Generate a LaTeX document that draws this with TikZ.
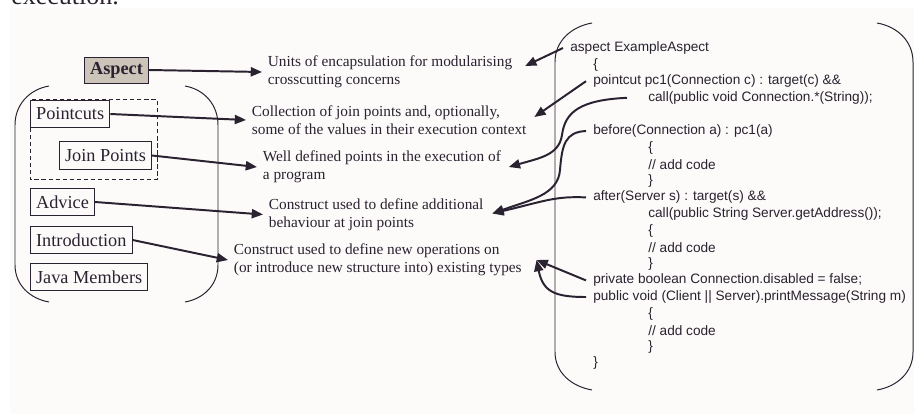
\documentclass[tikz,border=0pt]{standalone}
\usepackage{fontspec}
\setmainfont{Liberation Serif}
\newfontfamily\codefont{Liberation Sans}
\usetikzlibrary{arrows.meta,calc}
\definecolor{ink}{HTML}{2A2230}
\definecolor{paper}{HTML}{FCFBFA}
\definecolor{aspectfill}{HTML}{CCC3B9}

\begin{document}
\begin{tikzpicture}[x=0.025cm,y=-0.025cm,>={Triangle[length=8pt,width=6.5pt]},
  every node/.style={text=ink},
  part/.style={draw=ink,line width=.7pt,anchor=west,inner xsep=4pt,minimum height=19.5pt,font=\fontsize{13}{15}\selectfont},
  desc/.style={anchor=west,align=left,inner xsep=4pt,inner ysep=0pt,font=\fontsize{10.9}{12.8}\selectfont},
  code/.style={anchor=west,inner xsep=5pt,inner ysep=1pt,font=\codefont\fontsize{9.7}{11.6}\selectfont},
  link/.style={->,draw=ink,line width=1.4pt},
  bracket/.style={draw=ink,line width=.7pt}]

\useasboundingbox (0,0) rectangle (914,414);
\fill[paper] (10,8) rectangle (914,414);
\node[anchor=base west,inner sep=0pt,font=\fontsize{18.5}{20}\selectfont] (prevline) at (11,4) {execution.};

% the parts of an aspect
\node[part,fill=aspectfill,minimum height=18.5pt,font=\fontsize{13}{15}\selectfont\bfseries] (aspect) at (84,70) {Aspect};
\node[part] (pc) at (30,114) {Pointcuts};
\node[part] (jp) at (59,155.5) {Join Points};
\node[part] (adv) at (30,202) {Advice};
\node[part] (intro) at (30,240) {Introduction};
\node[part] (jm) at (30,277) {Java Members};
\draw[draw=ink,line width=.6pt,dash pattern=on 3pt off 2pt] (pc.north west) rectangle ($(jp.south east)+(5,10)$);
\draw[bracket] (49,86) to[out=190,in=90] (15,125) -- (15,265) to[out=-90,in=170] (49,302);
\draw[bracket] (185,86) to[out=-10,in=90] (218,125) -- (218,265) to[out=-90,in=10] (185,302);

% what each part means
\node[desc] (units) at (262,72) {Units of encapsulation for modularising\\crosscutting concerns};
\node[desc] (coll) at (246,120) {Collection of join points and, optionally,\\some of the values in their execution context};
\node[desc] (wdef) at (257,167) {Well defined points in the execution of\\a program};
\node[desc] (addl) at (263,214.5) {Construct used to define additional\\behaviour at join points};
\node[desc] (newop) at (228,260) {Construct used to define new operations on\\(or introduce new structure into) existing types};

\draw[link] (aspect.east) -- (units.west);
\draw[link] (pc.east) -- (coll.west);
\draw[link] (jp.east) -- (wdef.west);
\draw[link] (adv.east) -- (addl.west);
\draw[link] (intro.east) -- (newop.west);

% the example aspect
\draw[bracket] (592,23) to[out=190,in=90] (555,62) -- (555,352) to[out=-90,in=170] (592,390);
\draw[bracket] (877,23) to[out=-10,in=90] (913,62) -- (913,352) to[out=-90,in=10] (877,390);
\node[code] (cAspect) at (563,48) {aspect ExampleAspect};
\node[code] (cOpen) at (586,64.6) {\{};
\node[code] (cPointcut) at (586,81.2) {pointcut pc1(Connection c) : target(c) \&\&};
\node[code] (cCall) at (641,97.8) {call(public void Connection.*(String));};
\node[code] (cBefore) at (586,131) {before(Connection a) : pc1(a)};
\node[code] (bOpen) at (641,147.6) {\{};
\node[code] (bAdd) at (641,164.2) {// add code};
\node[code] (bClose) at (641,180.8) {\}};
\node[code] (cAfter) at (586,197.4) {after(Server s) : target(s) \&\&};
\node[code] (cGet) at (641,214) {call(public String Server.getAddress());};
\node[code] (aOpen) at (641,230.6) {\{};
\node[code] (aAdd) at (641,247.2) {// add code};
\node[code] (aClose) at (641,263.8) {\}};
\node[code] (cPrivate) at (586,280.4) {private boolean Connection.disabled = false;};
\node[code] (cPublic) at (586,297) {public void (Client || Server).printMessage(String m)};
\node[code] (mOpen) at (641,313.6) {\{};
\node[code] (mAdd) at (641,330.2) {// add code};
\node[code] (mClose) at (641,346.8) {\}};
\node[code] (cClose) at (586,363.4) {\}};

\draw[link] (cAspect.west) -- ($(units.east)+(7,-6)$);
\draw[link] (cPointcut.west) -- ($(coll.east)+(2,-3)$);
\draw[link] ($(cCall.west)+(-14,0)$) .. controls (580,100) and (565,112) .. (562,135)
  .. controls (559,155) and (540,158) .. ($(wdef.east)+(2,0)$);
\draw[link] (cBefore.west) .. controls (565,132) and (562,145) .. (560,170)
  .. controls (558,195) and (530,200) .. ($(addl.east)+(3,-1)$);
\draw[link] (cAfter.west) .. controls (555,196) and (545,201) .. ($(addl.east)+(3,-1)$);
\draw[link] (cPrivate.west) -- ($(newop.east)+(9,0)$);
\draw[link] (cPublic.west) .. controls (555,297) and (543,292) .. ($(newop.east)+(9,0)$);
\end{tikzpicture}
\end{document}
